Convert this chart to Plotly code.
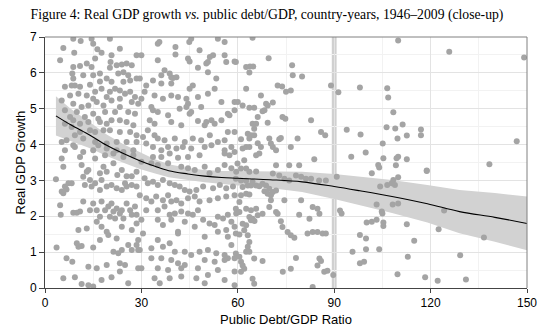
import plotly.graph_objects as go

# ---- scatter points (public debt/GDP %, real GDP growth %) ----
pts_low_debt_high_growth = [
    (8.8,6.95),(11.1,6.89),(14.5,6.95),(15.0,6.81),(20.2,6.95),(5.7,6.69),(4.7,6.35),(9.1,6.56),
    (16.3,6.66),(17.6,6.56),(15.6,6.40),(20.7,6.49),(23.3,6.67),(20.4,6.30),(23.9,6.23),(25.4,6.26),
    (27.0,6.21),(28.5,6.49),(8.8,6.16),(8.5,5.98),(10.9,6.19),(13.0,6.26),(14.5,6.16),(17.1,5.98),
    (20.2,6.14),(22.3,6.21),(22.8,5.98),(24.4,6.02),(25.9,5.93),(8.8,5.84),(9.3,5.65),(11.9,5.93),
    (15.0,5.93),(17.1,5.76),(19.2,5.84),(20.7,5.75),(24.4,5.75),(26.5,5.79),(28.5,5.84),(6.2,5.61),
    (8.3,5.65),(10.9,5.61),(14.0,5.67),(15.6,5.47),(17.6,5.56),(20.2,5.47),(21.8,5.56),(23.3,5.51),
    (24.9,5.42),(26.5,5.47),(28.0,5.33),(7.8,5.37),(10.4,5.42),(13.0,5.37),(15.0,5.28),(19.2,5.33),
    (20.7,5.23),(23.3,5.28),(27.0,5.19),(29.0,5.14),(5.2,5.23),(8.8,5.14),(11.4,5.05),(13.5,5.09),
    (16.1,5.19),(18.2,5.09),(23.3,5.05),(25.9,4.91),(6.2,4.96),(9.9,4.91),(12.4,4.77),(15.0,4.86),
    (18.7,4.91),(21.8,4.91),(28.0,4.86),(7.8,4.77),(8.8,4.68),(10.9,4.58),(13.5,4.63),(16.6,4.72),
    (17.1,4.63),(19.2,4.58),(20.7,4.68),(23.3,4.68),(25.4,4.63),(27.5,4.54),(6.2,4.58),(8.3,4.49),
    (9.3,4.26),(10.9,4.35),(14.0,4.40),(15.6,4.35),(18.2,4.40),(20.2,4.40),(23.3,4.35),(26.5,4.35),
    (28.5,4.26),(5.2,4.07),(6.7,4.12),(8.8,3.98),(11.9,4.17),(15.6,4.07),(16.6,3.98),(19.2,4.03),
    (22.3,4.07),(25.4,4.07),(28.5,4.07),(6.2,3.84),(9.3,3.93),(11.9,3.79),(15.0,3.84),(19.2,3.89),
    (22.3,3.84),(24.4,3.79),(27.5,3.84),(5.2,3.61),(10.9,3.65),(15.6,3.61),(18.7,3.70),(21.3,3.75),
    (24.4,3.65),(27.5,3.70),
]
pts_low_debt_low_growth = [
    (5.7,3.38),(3.4,3.03),(11.4,3.43),(13.5,3.29),(13.0,3.24),(18.2,3.38),(21.3,3.48),(17.1,3.20),
    (19.2,3.24),(22.5,3.15),(25.4,3.12),(27.0,3.12),(23.9,3.29),(28.5,3.24),(5.2,2.69),(6.2,2.83),
    (7.3,2.92),(8.3,2.92),(6.7,2.75),(5.7,2.64),(11.9,3.10),(14.0,3.01),(12.4,2.87),(14.5,2.83),
    (15.6,2.92),(17.6,3.01),(17.1,2.73),(19.2,2.83),(20.7,2.87),(22.3,2.78),(23.9,2.73),(25.4,2.83),
    (27.0,2.87),(28.5,2.83),(24.9,2.92),(4.7,2.31),(4.9,2.04),(8.8,2.10),(9.9,2.10),(10.9,2.13),
    (11.9,2.41),(15.0,2.36),(14.0,2.17),(16.1,2.17),(17.6,2.41),(18.7,2.17),(19.7,2.27),(20.7,2.36),
    (21.3,2.13),(22.3,2.22),(23.9,2.17),(25.4,2.36),(26.5,2.17),(28.0,2.27),(17.1,1.99),(20.2,1.99),
    (21.8,1.94),(23.3,2.08),(24.4,1.94),(27.0,2.04),(28.5,2.04),(16.1,1.85),(17.6,1.71),(23.9,1.71),
    (28.5,1.80),(10.4,1.62),(13.0,1.66),(19.2,1.57),(19.7,1.48),(17.1,1.34),(27.0,1.62),(22.3,1.38),
    (29.0,1.34),(9.9,1.25),(10.4,1.15),(3.6,1.13),(11.4,1.17),(15.0,1.13),(21.3,1.01),(22.8,0.97),
    (23.9,1.06),(25.9,1.20),(27.0,1.06),(28.5,1.20),(29.0,1.06),(6.7,0.83),(8.5,0.73),(13.5,0.59),
    (16.1,0.55),(19.2,0.64),(23.3,0.69),(24.9,0.64),(29.0,0.55),(5.7,0.27),(9.3,0.30),(11.4,0.11),
    (13.5,0.08),(15.0,0.04),(17.6,0.22),(20.7,0.30),(23.3,0.46),(25.9,0.13),
]
pts_mid_debt_high_growth = [
    (35.1,6.81),(35.6,6.86),(40.6,6.72),(44.9,6.86),(45.5,6.95),(48.1,6.63),(53.8,6.95),(55.9,6.86),
    (30.0,6.49),(35.1,6.35),(40.6,6.51),(44.5,6.40),(45.0,6.32),(51.3,6.44),(52.3,6.49),(50.2,6.26),
    (50.7,6.30),(55.9,6.49),(56.4,6.30),(59.0,6.32),(37.2,6.07),(36.2,5.93),(38.8,5.98),(39.3,5.88),
    (39.8,5.86),(40.9,5.88),(47.6,6.14),(50.7,6.02),(53.3,5.84),(29.5,5.84),(31.5,5.65),(33.6,5.79),
    (36.2,5.70),(39.3,5.70),(46.0,5.65),(45.0,5.56),(47.6,5.33),(50.7,5.42),(52.8,5.56),(31.0,5.47),
    (34.1,5.37),(36.7,5.28),(39.3,5.37),(41.4,5.33),(44.0,5.28),(44.5,5.14),(44.0,5.05),(48.6,5.05),
    (54.9,5.19),(59.0,5.19),(30.0,5.28),(33.1,5.05),(33.6,4.96),(35.1,4.91),(38.3,4.82),(41.9,5.00),
    (45.0,4.86),(45.5,4.91),(50.2,4.63),(51.8,4.68),(54.9,4.68),(56.9,4.86),(57.4,4.82),(59.0,4.96),
    (32.6,4.68),(34.1,4.58),(39.3,4.63),(42.4,4.54),(47.6,4.66),(49.7,4.54),(52.8,4.58),(30.5,4.21),
    (32.0,4.40),(34.1,4.26),(35.1,4.17),(37.2,4.12),(40.4,4.17),(43.5,4.07),(46.0,4.17),(48.6,4.12),
    (51.3,4.26),(53.8,4.07),(55.9,4.12),(56.9,4.35),(59.0,4.35),(31.5,4.03),(33.6,3.93),(36.2,3.84),
    (38.3,3.93),(40.9,3.89),(42.9,3.93),(45.5,3.89),(49.7,3.93),(51.8,3.98),(55.9,3.84),(58.0,3.93),
    (33.6,3.65),(36.2,3.65),(38.8,3.75),(41.4,3.63),(44.5,3.65),(48.1,3.70),(55.9,3.75),(57.4,3.70),
    (59.0,3.79),
]
pts_mid_debt_low_growth = [
    (30.0,3.52),(33.1,3.48),(35.1,3.43),(38.3,3.48),(42.4,3.38),(44.5,3.34),(46.6,3.29),(49.7,3.38),
    (51.2,3.20),(53.8,3.29),(55.9,3.43),(58.0,3.34),(59.5,3.24),(31.0,3.06),(32.0,2.92),(33.6,2.96),
    (35.1,2.87),(36.7,3.01),(38.8,2.92),(40.4,2.87),(41.9,2.83),(43.5,2.73),(45.0,2.69),(47.1,2.73),
    (49.2,2.83),(52.3,2.78),(54.4,2.87),(56.4,2.78),(58.5,2.83),(29.5,2.59),(31.5,2.50),(33.1,2.41),
    (34.6,2.55),(36.7,2.45),(38.3,2.59),(39.3,2.41),(40.9,2.45),(42.4,2.36),(44.5,2.50),(46.6,2.55),
    (48.1,2.41),(51.2,2.45),(53.8,2.50),(56.4,2.55),(59.0,2.59),(31.5,2.17),(35.1,2.17),(37.2,2.27),
    (38.8,2.04),(40.4,2.08),(42.4,2.13),(44.5,2.08),(46.0,2.04),(47.6,2.17),(49.2,1.90),(51.2,1.80),
    (53.8,1.99),(55.4,1.94),(56.9,2.04),(58.0,1.85),(59.5,2.08),(30.0,1.90),(35.1,1.90),(36.7,1.76),
    (39.3,1.90),(41.4,1.57),(43.5,1.85),(46.6,1.71),(52.8,1.76),(56.4,1.62),(59.0,1.71),(30.5,1.52),
    (35.1,1.34),(38.8,1.25),(41.4,1.52),(49.7,1.43),(53.8,1.57),(56.9,1.43),(58.0,1.20),(29.5,1.06),
    (33.1,1.11),(36.7,1.15),(40.4,1.01),(43.5,1.01),(45.5,0.92),(48.1,1.01),(50.7,1.06),(53.3,0.97),
    (55.9,0.92),(56.9,0.83),(33.1,0.83),(36.2,0.83),(39.3,0.78),(41.4,0.69),(43.5,0.64),(49.7,0.78),
    (52.8,0.73),(55.9,0.78),(59.0,0.83),(30.0,0.55),(35.1,0.55),(38.3,0.50),(42.4,0.55),(47.6,0.55),
    (50.7,0.36),(53.8,0.50),(59.0,0.46),(34.1,0.27),(35.7,0.13),(38.8,0.27),(42.4,0.32),(47.1,0.27),
    (49.7,0.13),(55.9,0.22),(59.0,0.08),
]
pts_60_90_high_growth = [
    (64.6,6.98),(69.6,6.41),(62.6,6.16),(63.8,6.18),(64.8,6.18),(63.6,6.01),(76.9,6.21),(77.1,5.93),
    (80.0,5.90),(59.4,6.30),(72.4,5.65),(73.8,5.62),(75.0,5.47),(76.5,5.51),(89.0,5.65),(62.6,5.56),
    (67.2,5.37),(68.8,5.14),(69.3,5.09),(70.9,5.17),(60.0,5.19),(61.5,5.09),(63.6,5.03),(65.1,5.03),
    (67.7,4.93),(68.3,4.96),(73.9,4.77),(74.8,4.72),(82.8,4.68),(66.2,4.77),(64.6,4.58),(65.7,4.58),
    (65.1,4.44),(69.3,4.61),(85.9,4.35),(87.2,4.26),(63.1,4.30),(64.1,4.26),(65.1,4.26),(61.0,4.15),
    (63.6,4.17),(69.8,4.17),(72.9,4.15),(73.4,4.18),(78.6,4.17),(66.2,4.04),(70.3,4.03),(70.9,3.93),
    (71.9,3.84),(62.6,3.93),(63.6,3.93),(61.5,3.89),(67.2,3.93),(76.5,3.93),(66.7,3.75),(65.7,3.70),
    (83.8,3.59),(62.0,3.56),(71.9,3.42),(76.0,3.42),(79.1,3.42),(61.0,3.33),(62.6,3.33),(63.6,3.24),
    (65.7,3.25),(70.9,3.19),(59.9,3.47),
]
pts_60_90_low_growth = [
    (59.4,3.05),(61.0,3.00),(62.6,2.99),(64.1,2.86),(65.7,2.86),(66.7,2.84),(67.7,2.91),(68.8,2.86),
    (69.8,2.77),(70.9,2.68),(71.9,2.72),(72.9,3.14),(74.5,3.05),(76.0,3.00),(78.1,3.14),(79.7,3.10),
    (81.2,3.05),(82.8,3.05),(85.3,3.00),(87.4,3.00),(61.5,2.82),(63.1,2.86),(64.6,2.96),(68.3,2.70),
    (69.3,2.63),(70.3,2.59),(61.0,2.59),(62.6,2.63),(63.6,2.61),(60.5,2.40),(59.4,2.21),(60.5,2.12),
    (62.6,2.21),(64.1,2.17),(65.7,2.21),(66.2,2.03),(67.7,2.07),(63.6,1.98),(64.6,1.93),(64.1,1.89),
    (61.5,1.79),(62.6,1.75),(62.0,1.61),(70.3,2.45),(74.5,2.45),(79.7,2.45),(83.3,2.26),(84.8,2.21),
    (79.1,2.04),(71.9,2.12),(72.4,2.07),(69.8,2.26),(63.1,1.47),(59.4,1.52),(60.5,1.49),(65.2,1.87),
    (73.4,1.86),(73.9,1.70),(75.5,1.56),(76.5,1.47),(77.6,1.40),(81.7,1.52),(83.3,1.56),(84.8,1.56),
    (86.4,1.52),(87.4,1.52),(85.4,2.07),(82.3,1.93),(63.6,1.28),(63.1,1.15),(62.6,1.01),(59.4,0.96),
    (60.5,0.87),(63.6,1.01),(65.1,0.82),(67.7,0.75),(78.1,0.84),(85.4,0.82),(85.9,0.75),(84.8,0.63),
    (61.0,0.73),(61.5,0.63),(62.0,0.54),(61.0,0.45),(74.0,0.45),(76.5,0.54),(86.9,0.45),(87.9,0.48),
    (64.6,0.26),(65.1,0.12),(83.3,0.03),
]
pts_high_debt = [
    (109.9,6.90),(125.8,6.59),(149.1,6.43),(98.0,5.59),(106.5,5.57),(106.8,5.31),(108.4,4.90),
    (106.3,4.48),(109.0,4.45),(111.3,4.56),(117.0,4.42),(98.2,4.28),(109.7,4.17),(112.6,4.25),
    (117.0,4.26),(105.1,4.03),(146.8,4.09),(99.8,3.78),(105.3,3.62),(109.4,3.62),(109.9,3.66),
    (112.6,3.59),(103.7,3.43),(104.0,3.36),(109.2,3.42),(138.3,3.45),(118.8,3.28),(101.7,3.20),
    (109.9,3.09),(108.4,3.01),(108.9,2.87),(107.9,2.92),(104.3,2.83),(106.5,2.87),(118.8,3.26),
    (103.2,2.33),(108.2,2.33),(109.9,2.36),(104.8,2.13),(105.0,2.08),(124.2,2.16),(100.1,1.83),
    (101.7,1.85),(103.2,1.90),(105.3,1.83),(105.3,1.73),(112.6,1.78),(122.5,1.64),(136.6,1.41),
    (98.0,1.48),(99.9,1.38),(114.9,1.32),(99.9,1.08),(104.0,1.08),(112.9,0.87),(129.2,0.91),
    (98.0,0.69),(99.3,0.73),(109.7,0.38),(118.3,0.30),(122.2,0.20),(131.0,0.24),
    (91.3,5.46),(93.9,4.41),(95.3,3.66),(91.8,2.16),(92.3,2.08),(95.7,1.01),(90.8,3.10),(89.7,0.36),
]

# ---- smoothed fit and its confidence band ----
fit_x = [3.4, 8, 14, 19.2, 24.4, 29.5, 34, 38.5, 44.5, 49.7, 55, 60, 70, 80, 90, 98, 108, 119, 129, 140, 150]
fit_y = [4.80, 4.55, 4.26, 3.98, 3.75, 3.55, 3.40, 3.27, 3.18, 3.12, 3.08, 3.06, 3.02, 2.96, 2.83, 2.71, 2.55, 2.35, 2.13, 1.97, 1.80]
band_upper = [5.35, 5.00, 4.62, 4.28, 4.01, 3.78, 3.60, 3.45, 3.35, 3.29, 3.26, 3.26, 3.25, 3.24, 3.18, 3.11, 3.01, 2.87, 2.73, 2.65, 2.55]
band_lower = [4.25, 4.10, 3.90, 3.68, 3.49, 3.32, 3.20, 3.09, 3.01, 2.95, 2.90, 2.86, 2.79, 2.68, 2.48, 2.31, 2.09, 1.83, 1.53, 1.29, 1.05]

x_ticks = [0, 30, 60, 90, 120, 150]
y_ticks = [0, 1, 2, 3, 4, 5, 6, 7]
threshold = 90

all_pts = (pts_low_debt_high_growth + pts_low_debt_low_growth + pts_mid_debt_high_growth +
           pts_mid_debt_low_growth + pts_60_90_high_growth + pts_60_90_low_growth + pts_high_debt)
debt = [p[0] for p in all_pts]
growth = [p[1] for p in all_pts]

fig = go.Figure()
fig.add_trace(go.Scatter(x=fit_x + fit_x[::-1], y=band_upper + band_lower[::-1], fill="toself",
                         fillcolor="#d2d2d2", line=dict(width=0), mode="lines", hoverinfo="skip"))
fig.add_trace(go.Scatter(x=debt, y=growth, mode="markers",
                         marker=dict(size=6, color="#a4a4a4", line=dict(width=0))))
fig.add_trace(go.Scatter(x=fit_x, y=fit_y, mode="lines", line=dict(color="black", width=1.1, shape="spline")))

fig.add_shape(type="rect", x0=threshold - 0.75, x1=threshold + 0.75, y0=0, y1=7,
              fillcolor="#d0d0d0", line=dict(width=0), layer="below")
# top and right frame
fig.add_shape(type="line", xref="paper", yref="paper", x0=0, x1=1, y0=1, y1=1, line=dict(color="#808080", width=1))
fig.add_shape(type="line", xref="paper", yref="paper", x0=1, x1=1, y0=0, y1=1, line=dict(color="#808080", width=1))

# axis titles as annotations for exact placement
fig.add_annotation(text="Public Debt/GDP Ratio", xref="paper", yref="paper", x=0.5, y=-31 / 251,
                   xanchor="center", yanchor="middle", showarrow=False, font=dict(size=13))
fig.add_annotation(text="Real GDP Growth", xref="paper", yref="paper", x=-25 / 482, y=0.5,
                   xanchor="center", yanchor="middle", textangle=-90, showarrow=False, font=dict(size=13))

fig.update_layout(
    width=545, height=329, margin=dict(l=45, r=18, t=37, b=41),
    paper_bgcolor="white", plot_bgcolor="white", showlegend=False,
    font=dict(family="Liberation Sans, Arial", color="black"),
    title=dict(text="Figure 4: Real GDP growth <i>vs.</i> public debt/GDP, country-years, 1946\u20132009 (close-up)",
               x=267 / 545, xref="container", xanchor="center", y=1 - 14 / 329, yanchor="middle",
               font=dict(family="Liberation Serif, DejaVu Serif", size=13.7, color="black")),
    xaxis=dict(range=[0, 150], tickvals=x_ticks, ticks="outside", ticklen=4, tickcolor="#444",
               showline=True, linecolor="#444", linewidth=1, zeroline=False, automargin=False,
               showgrid=True, gridcolor="#e3e3e3", gridwidth=1,
               minor=dict(dtick=15, showgrid=True, gridcolor="#f2f2f2"),
               tickfont=dict(size=12)),
    yaxis=dict(range=[0, 7], tickvals=y_ticks, ticks="outside", ticklen=5, tickcolor="#444",
               showline=True, linecolor="#444", linewidth=1, zeroline=False, automargin=False,
               showgrid=True, gridcolor="#e3e3e3", gridwidth=1,
               minor=dict(dtick=0.5, showgrid=True, gridcolor="#f2f2f2"),
               tickfont=dict(size=12)),
)

fig.write_html("out.html")
